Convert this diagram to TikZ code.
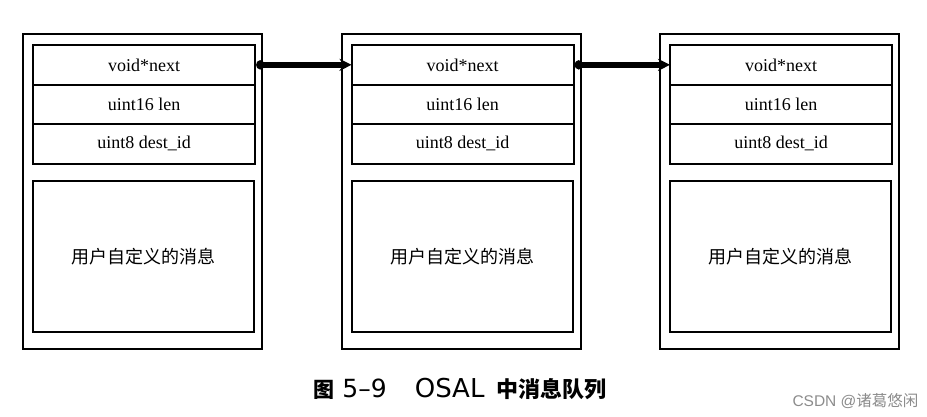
\documentclass[tikz,border=0pt]{standalone}
\usepackage{fontspec}
\setmainfont{Liberation Serif}
\newfontfamily\cjk{Noto Sans CJK SC}
\newfontfamily\capfont{DejaVu Sans}
\newfontfamily\wmfont{Liberation Sans}
\usetikzlibrary{arrows.meta}
\tikzset{
  frame/.style={draw, line width=2.4pt, minimum width=239pt, minimum height=315pt, anchor=north west, inner sep=0pt},
  field/.style={draw, line width=2.2pt, minimum width=222pt, minimum height=39.5pt, anchor=north west, inner sep=0pt, font=\fontsize{18}{20}\selectfont},
  msgbox/.style={draw, line width=2.2pt, minimum width=221pt, minimum height=151pt, anchor=north west, inner sep=0pt, font=\cjk\fontsize{18}{20}\selectfont},
  link/.style={line width=6pt, {Circle[length=8pt,width=9pt]}-{Stealth[length=12pt,width=12pt]}, shorten >=-1pt},
  caption/.style={inner sep=0pt},
  watermark/.style={text=black!45, font=\fontsize{15.5}{17}\selectfont, anchor=east}
}
\begin{document}
\begin{tikzpicture}[x=1pt,y=-1pt]
\useasboundingbox[fill=white] (0,0) rectangle (927,416);
\foreach \i/\dx in {1/0,2/318.5,3/637}{
  \node[frame] (o\i) at (22+\dx,33) {};
  \node[field] (n\i) at (32+\dx,44) {void*next};
  \node[field] (l\i) at (32+\dx,83.5) {uint16 len};
  \node[field] (d\i) at (32+\dx,123) {uint8 dest\_id};
  \node[msgbox] (m\i) at (32+\dx,180) {用户自定义的消息};
}
\draw[link] (n1.east) -- (n2.west);
\draw[link] (n2.east) -- (n3.west);
\node[caption, anchor=base] (cap) at (460,397) {{\cjk\bfseries\fontsize{21}{24}\selectfont 图}\hspace{8pt}{\capfont\fontsize{25}{28}\selectfont 5–9}\hspace{28pt}{\capfont\fontsize{26}{28}\selectfont OSAL}\hspace{12pt}{\cjk\bfseries\fontsize{22}{24}\selectfont 中消息队列}};
\node[watermark] (wm) at (922,401) {{\wmfont CSDN @}{\cjk 诸葛悠闲}};
\end{tikzpicture}
\end{document}
